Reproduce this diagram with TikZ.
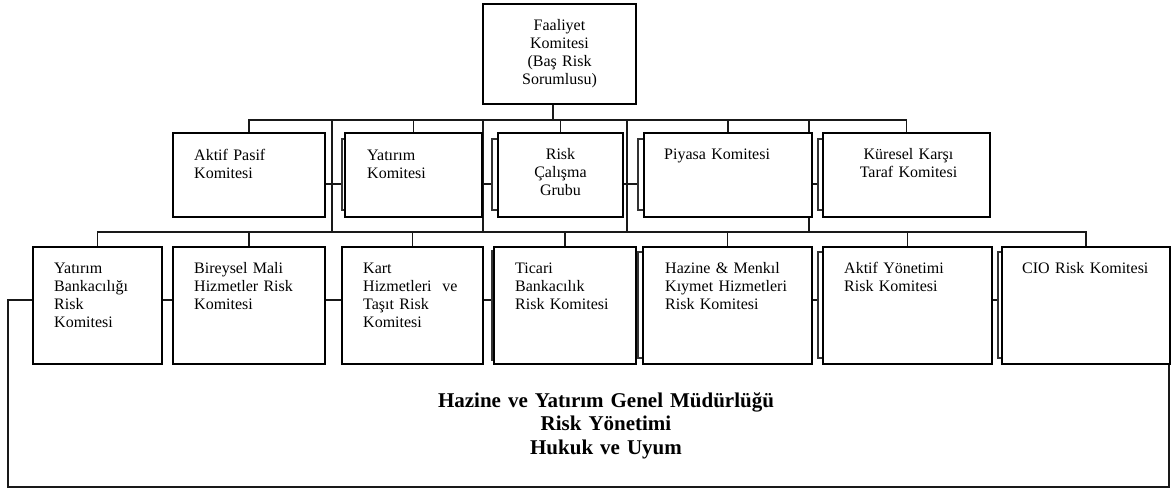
\documentclass[tikz,border=0pt]{standalone}
\usepackage{fontspec}
\setmainfont{Liberation Serif}
\newcommand\mkbox[6][box]{\node[#1,minimum width={#5-#3},minimum height={#6-#4}] (#2) at ({(#3+#5)/2},{(#4+#6)/2}) {};}
\begin{document}
\begin{tikzpicture}[x=1pt,y=-1pt,
  box/.style={draw=black,line width=1.5pt,fill=white,inner sep=0pt,outer sep=0pt},
  shd/.style={draw=black!80,line width=1.2pt,fill=white,inner sep=0pt,outer sep=0pt},
  conn/.style={draw=black!90,line width=1.1pt},
  txt/.style={font=\fontsize{16}{18}\selectfont,inner sep=0pt,text width=160pt,align=left,anchor=base west},
  ctxt/.style={font=\fontsize{16}{18}\selectfont,inner sep=0pt,text width=140pt,align=center,anchor=base},
  big/.style={font=\fontsize{21}{23.5}\selectfont\bfseries,inner sep=0pt,text width=500pt,align=center,anchor=base}]
\useasboundingbox (0,0) rectangle (1173,491);
% helper coordinates
\coordinate (busA) at (553,120);
\coordinate (busB) at (553,232);
\coordinate (v1) at (332,120);
\coordinate (v2) at (483,120);
\coordinate (v3) at (627,120);
\coordinate (v4) at (809,120);
\coordinate (L1) at (8,300);
\coordinate (L2) at (8,487);
\coordinate (L3) at (1169,487);
% boxes (positions only, drawn later on top)
\begin{scope}[every node/.append style={draw=none,fill=none}]
\mkbox{F}{483}{4}{636}{104}
\mkbox{A1}{173}{133}{325}{217}
\mkbox{A2}{345}{133}{482}{217}
\mkbox{A3}{498}{133}{623}{217}
\mkbox{A4}{644}{133}{812}{217}
\mkbox{A5}{823}{133}{990}{217}
\mkbox{B1}{33}{247}{162}{364}
\mkbox{B2}{173}{247}{325}{364}
\mkbox{B3}{342}{247}{483}{364}
\mkbox{B4}{494}{247}{636}{364}
\mkbox{B5}{643}{247}{812}{364}
\mkbox{B6}{823}{247}{992}{364}
\mkbox{B7}{1002}{247}{1170}{364}
\mkbox{sA2}{342}{139}{352}{210}
\mkbox{sA3}{492}{139}{505}{210}
\mkbox{sA4}{638}{139}{650}{210}
\mkbox{sA5}{818}{139}{830}{210}
\mkbox{sB4}{492}{251}{500}{360}
\mkbox{sB5}{638}{252}{650}{358}
\mkbox{sB6}{818}{252}{830}{358}
\mkbox{sB7}{998}{252}{1010}{358}
\end{scope}
% connectors
\draw[conn] (busA |- F.south) -- (busA);
\draw[conn] (A1.north) -- (A1.north |- busA) -| (A5.north);
\foreach \n in {A2,A3,A4} \draw[conn] (\n.north) -- (\n.north |- busA);
\foreach \c in {v1,v2,v3,v4} \draw[conn] (\c) -- (\c |- busB);
\draw[conn] (B1.north) -- (B1.north |- busB) -| (B7.north);
\foreach \n in {B2,B3,B4,B5,B6} \draw[conn] (\n.north) -- (\n.north |- busB);
\draw[conn] (A1.east |- 0,184) -- (sA2.west |- 0,184);
\draw[conn] (A2.east |- 0,184) -- (sA3.west |- 0,184);
\draw[conn] (A3.east |- 0,184) -- (sA4.west |- 0,184);
\draw[conn] (A4.east |- 0,184) -- (sA5.west |- 0,184);
\draw[conn] (B1.east |- L1) -- (B2.west |- L1);
\draw[conn] (B2.east |- L1) -- (B3.west |- L1);
\draw[conn] (B3.east |- L1) -- (sB4.west |- L1);
\draw[conn] (B4.east |- L1) -- (sB5.west |- L1);
\draw[conn] (B5.east |- L1) -- (sB6.west |- L1);
\draw[conn] (B6.east |- L1) -- (sB7.west |- L1);
\draw[conn] (B1.west |- L1) -- (L1) -- (L2) -- (L3) -- (L3 |- B7.south);
% shadows
\foreach \n in {sA2,sA3,sA4,sA5,sB4,sB5,sB6,sB7}
  \draw[shd] (\n.north west) rectangle (\n.south east);
% boxes
\foreach \n in {F,A1,A2,A3,A4,A5,B1,B2,B3,B4,B5,B6,B7}
  \draw[box] (\n.north west) rectangle (\n.south east);
% texts
\node[ctxt] (tF) at ([shift={(0,26)}]F.north) {Faaliyet\\Komitesi\\(Baş Risk\\Sorumlusu)};
\node[txt] (tA1) at ([shift={(21,27)}]A1.north west) {Aktif Pasif\\Komitesi};
\node[txt] (tA2) at ([shift={(22,27)}]A2.north west) {Yatırım\\Komitesi};
\node[ctxt] (tA3) at ([shift={(0,26)}]A3.north) {Risk\\Çalışma\\Grubu};
\node[txt] (tA4) at ([shift={(20,26)}]A4.north west) {Piyasa Komitesi};
\node[ctxt] (tA5) at ([shift={(2,26)}]A5.north) {Küresel Karşı\\Taraf Komitesi};
\node[txt] (tB1) at ([shift={(21,26)}]B1.north west) {Yatırım\\Bankacılığı\\Risk\\Komitesi};
\node[txt] (tB2) at ([shift={(21,26)}]B2.north west) {Bireysel Mali\\Hizmetler Risk\\Komitesi};
\node[txt] (tB3) at ([shift={(21,26)}]B3.north west) {Kart\\Hizmetleri~ ve\\Taşıt Risk\\Komitesi};
\node[txt] (tB4) at ([shift={(21,26)}]B4.north west) {Ticari\\Bankacılık\\Risk Komitesi};
\node[txt] (tB5) at ([shift={(22,26)}]B5.north west) {Hazine \& Menkıl\\Kıymet Hizmetleri\\Risk Komitesi};
\node[txt] (tB6) at ([shift={(21,26)}]B6.north west) {Aktif Yönetimi\\Risk Komitesi};
\node[txt] (tB7) at ([shift={(20,26)}]B7.north west) {CIO Risk Komitesi};
\node[big] (bt) at (606,407) {Hazine ve Yatırım Genel Müdürlüğü\\Risk Yönetimi\\Hukuk ve Uyum};
\end{tikzpicture}
\end{document}
